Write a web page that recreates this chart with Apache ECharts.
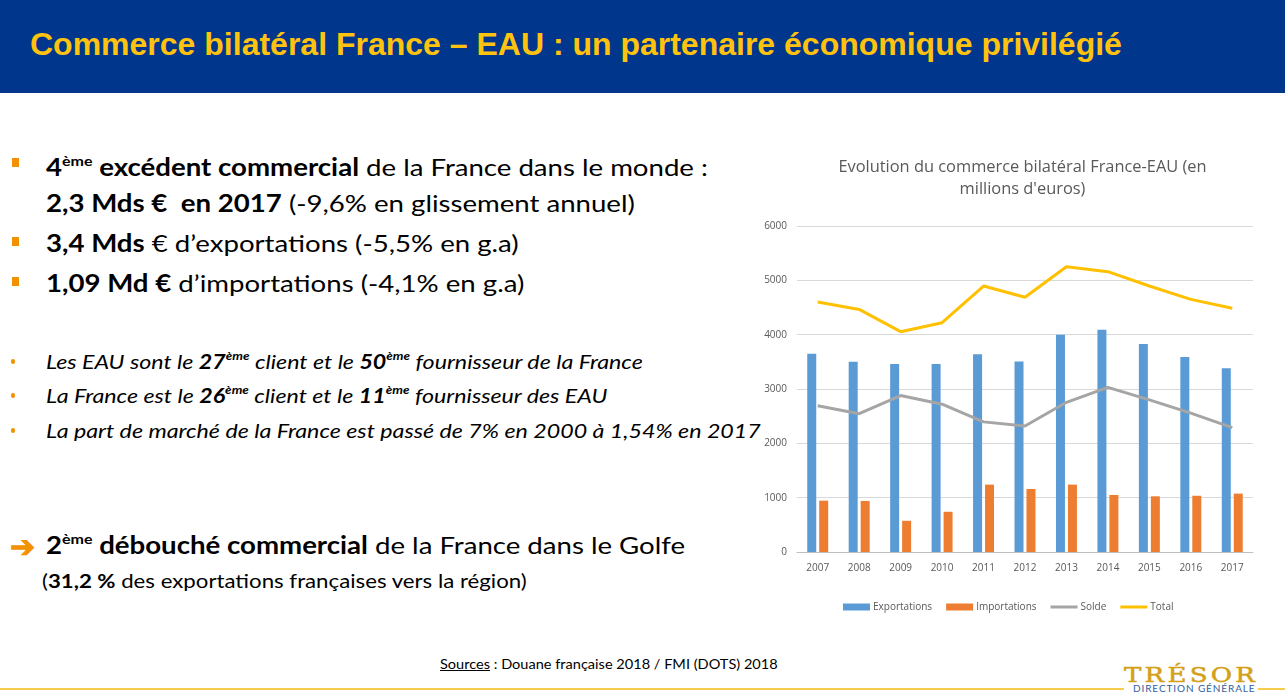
<!DOCTYPE html>
<html><head><meta charset="utf-8">
<script src="https://cdn.jsdelivr.net/npm/echarts@6/dist/echarts.min.js"></script>
<style>
html,body{margin:0;padding:0;width:1285px;height:697px;overflow:hidden;background:#fff;font-family:"Lato","Open Sans",sans-serif;color:#000;}
#hdr{position:absolute;left:0;top:0;width:1285px;height:93px;background:#00368C;}
#hdr div{position:absolute;left:30px;top:26px;font:bold 32px "Liberation Sans",Arial,sans-serif;color:#FFC20E;white-space:nowrap;}
.t{position:absolute;white-space:nowrap;transform-origin:0 50%;}
.big{font-size:24px;transform:scaleX(1.15);}
.it{font-size:20px;font-style:italic;transform:scaleX(1.16);}
.sm{font-size:19px;transform:scaleX(1.17);}
sup{font-size:0.58em;vertical-align:0;position:relative;top:-0.75em;}
.sq{position:absolute;width:7px;height:9px;background:#F39200;}
.dot{position:absolute;width:4px;height:5px;border-radius:2px;background:#F39200;}
#chart{position:absolute;left:760px;top:140px;width:525px;height:490px;}
</style></head><body>
<div id="hdr"><div>Commerce bilatéral France – EAU : un partenaire économique privilégié</div></div>

<div class="sq" style="left:12px;top:158px"></div>
<div class="t big" style="left:46px;top:152px"><b>4<sup>ème</sup> excédent commercial</b> de la France dans le monde :</div>
<div class="t big" style="left:46px;top:188px"><b>2,3 Mds €&nbsp; en 2017</b> (-9,6% en glissement annuel)</div>
<div class="sq" style="left:12px;top:237px"></div>
<div class="t big" style="left:46px;top:228px"><b>3,4 Mds</b> € d’exportations (-5,5% en g.a)</div>
<div class="sq" style="left:12px;top:277px"></div>
<div class="t big" style="left:46px;top:268px"><b>1,09 Md €</b> d’importations (-4,1% en g.a)</div>

<div class="dot" style="left:11px;top:359px"></div>
<div class="t it" style="left:46px;top:349px">Les EAU sont le <b>27<sup>ème</sup></b> client et le <b>50<sup>ème</sup></b> fournisseur de la France</div>
<div class="dot" style="left:11px;top:393px"></div>
<div class="t it" style="left:46px;top:383px">La France est le <b>26<sup>ème</sup></b> client et le <b>11<sup>ème</sup></b> fournisseur des EAU</div>
<div class="dot" style="left:11px;top:428px"></div>
<div class="t it" style="left:46px;top:418px">La part de marché de la France est passé de 7% en 2000 à 1,54% en 2017</div>

<div class="t" style="left:10px;top:527px;font-size:30px;color:#F39200;font-weight:bold;">➔</div>
<div class="t big" style="left:46px;top:530px"><b>2<sup>ème</sup> débouché commercial</b> de la France dans le Golfe</div>
<div class="t sm" style="left:42px;top:569px;">(<b>31,2 %</b> des exportations françaises vers la région)</div>

<div class="t" style="left:440px;top:655px;font-size:14px;transform:scaleX(1.04);"><u>Sources</u> : Douane française 2018 / FMI (DOTS) 2018</div>
<div style="position:absolute;left:0;top:688px;width:1285px;height:2px;background:#F7CB4D;"></div>
<div style="position:absolute;left:1124px;top:660px;width:134px;height:37px;background:#fff;"></div>
<div class="t" style="left:1124px;top:663px;font:20px 'DejaVu Serif',serif;color:#D4A017;letter-spacing:2.5px;transform:scaleX(1.3);-webkit-text-stroke:0.5px #D4A017;">TRÉSOR</div>
<div class="t" style="left:1133px;top:682px;font-size:10px;color:#3060A0;letter-spacing:0.9px;">DIRECTION GÉNÉRALE</div>

<div id="chart"></div>
<script>
var years = ['2007','2008','2009','2010','2011','2012','2013','2014','2015','2016','2017'];
var exportations = [3650, 3500, 3460, 3460, 3640, 3505, 4000, 4090, 3830, 3590, 3380];
var importations = [945, 940, 575, 740, 1240, 1160, 1240, 1050, 1025, 1035, 1075];
var solde = [2690, 2545, 2880, 2720, 2395, 2320, 2755, 3030, 2800, 2555, 2290];
var total = [4600, 4465, 4055, 4220, 4895, 4690, 5250, 5160, 4895, 4650, 4485];
var yTicks = [0, 1000, 2000, 3000, 4000, 5000, 6000];

var chart = echarts.init(document.getElementById('chart'));
var txt = '#595959';
var ff = 'Open Sans';
var linePath = 'path://M0,0 L27,0 L27,3 L0,3 Z';
chart.setOption({
  animation:false,
  title:{text:"Evolution du commerce bilatéral France-EAU (en\nmillions d'euros)",left:'center',top:11,
    textStyle:{fontFamily:ff,fontWeight:'normal',fontSize:16.4,color:txt,lineHeight:22}},
  legend:{left:78,top:457,itemWidth:27,itemHeight:7,itemGap:14,
    textStyle:{fontFamily:ff,fontSize:10,color:txt,padding:[0,0,0,-2]},
    data:[{name:'Exportations',icon:'rect'},{name:'Importations',icon:'rect'},{name:'Solde',icon:linePath},{name:'Total',icon:linePath}]},
  grid:{left:37,right:32,top:86,bottom:78},
  xAxis:{type:'category',data:years,axisTick:{show:false},
    axisLine:{lineStyle:{color:'#bfbfbf'}},
    axisLabel:{color:txt,fontSize:10,fontFamily:ff,margin:11}},
  yAxis:{type:'value',min:yTicks[0],max:yTicks[yTicks.length-1],interval:1000,
    axisLabel:{color:txt,fontSize:10,fontFamily:ff,margin:10,formatter:function(v){return String(v);}},
    splitLine:{lineStyle:{color:'#d9d9d9'}}},
  series:[
    {name:'Exportations',type:'bar',data:exportations,barWidth:9,barGap:'33%',itemStyle:{color:'#5B9BD5'}},
    {name:'Importations',type:'bar',data:importations,barWidth:9,itemStyle:{color:'#ED7D31'}},
    {name:'Solde',type:'line',data:solde,symbol:'none',lineStyle:{color:'#A5A5A5',width:3},itemStyle:{color:'#A5A5A5'}},
    {name:'Total',type:'line',data:total,symbol:'none',lineStyle:{color:'#FFC000',width:3},itemStyle:{color:'#FFC000'}}
  ]
});
</script>
</body></html>
